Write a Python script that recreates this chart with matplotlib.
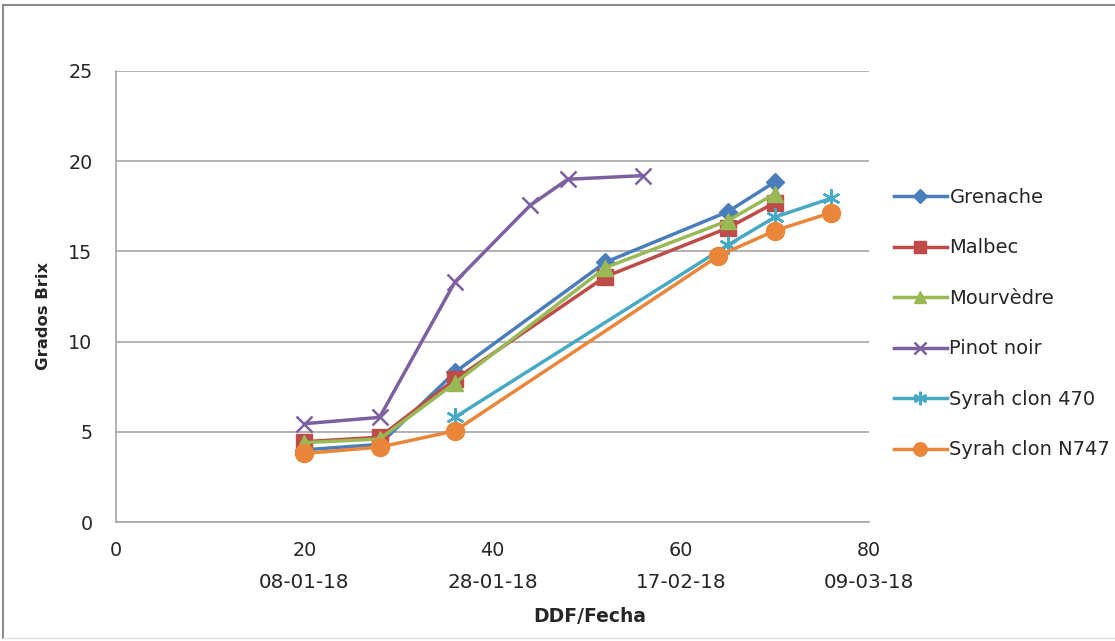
import matplotlib
matplotlib.use("Agg")
import matplotlib.pyplot as plt
from matplotlib.lines import Line2D
from matplotlib.transforms import blended_transform_factory

# ---- data ----
x_grenache = [20, 28, 36, 52, 65, 70]
y_grenache = [4.0, 4.3, 8.3, 14.4, 17.2, 18.85]
x_malbec = [20, 28, 36, 52, 65, 70]
y_malbec = [4.45, 4.7, 7.9, 13.6, 16.3, 17.7]
x_mourvedre = [20, 28, 36, 52, 65, 70]
y_mourvedre = [4.4, 4.6, 7.7, 14.1, 16.7, 18.2]
x_pinot = [20, 28, 36, 44, 48, 56]
y_pinot = [5.45, 5.8, 13.3, 17.55, 19.0, 19.2]
x_syrah470 = [36, 65, 70, 76]
y_syrah470 = [5.8, 15.35, 16.9, 17.95]
x_syrahN747 = [20, 28, 36, 64, 70, 76]
y_syrahN747 = [3.8, 4.15, 5.05, 14.75, 16.15, 17.15]

series_names = ["Grenache", "Malbec", "Mourvèdre", "Pinot noir",
                "Syrah clon 470", "Syrah clon N747"]
x_ticks = [0, 20, 40, 60, 80]
date_ticks = [20, 40, 60, 80]
date_labels = ["08-01-18", "28-01-18", "17-02-18", "09-03-18"]
y_ticks = [0, 5, 10, 15, 20, 25]

colors = ["#4A7EBB", "#BE4B48", "#98B954", "#7D60A0", "#46AAC5", "#E9863A"]
markers = ["D", "s", "^", "x", (6, 2, 0), "o"]
msizes = [9, 11, 12, 12, 13, 13]

W, H = 1115, 641
fig = plt.figure(figsize=(W / 100, H / 100), dpi=100)
ax = fig.add_axes([116 / W, 1 - 522 / H, (869 - 116) / W, (522 - 71) / H])

data = [(x_grenache, y_grenache), (x_malbec, y_malbec), (x_mourvedre, y_mourvedre),
        (x_pinot, y_pinot), (x_syrah470, y_syrah470), (x_syrahN747, y_syrahN747)]

for (xs, ys), name, c, m, ms in zip(data, series_names, colors, markers, msizes):
    mew = 1.8 if m in ("x", (6, 2, 0)) else 1
    ax.plot(xs, ys, color=c, lw=2.5, marker=m, markersize=ms,
            markeredgewidth=mew, markeredgecolor=c, markerfacecolor=c,
            label=name, zorder=3)

ax.set_xlim(0, 80)
ax.set_ylim(0, 25)
ax.set_xticks(x_ticks)
ax.set_yticks(y_ticks)
ax.grid(axis="y", color="#A6A6A6", lw=1.2)
ax.set_axisbelow(True)
for s in ["top", "right"]:
    ax.spines[s].set_visible(False)
for s in ["left", "bottom"]:
    ax.spines[s].set_color("#A6A6A6")
    ax.spines[s].set_linewidth(1.2)
ax.tick_params(length=0)
ax.tick_params(axis="y", pad=17)
ax.tick_params(axis="x", pad=14)
for lab in ax.get_yticklabels() + ax.get_xticklabels():
    lab.set_fontfamily("DejaVu Sans")
    lab.set_fontsize(13.8)
    lab.set_color("#262626")

trans = blended_transform_factory(ax.transData, fig.transFigure)
for xv, dl in zip(date_ticks, date_labels):
    fig.text(xv, 1 - 582 / H, dl, transform=trans, ha="center", va="center",
             fontsize=14.3, family="DejaVu Sans", color="#262626")

fig.text(590 / W, 1 - 617 / H, "DDF/Fecha", ha="center", va="center",
         fontsize=13.5, fontweight="bold", family="DejaVu Sans", color="#262626")
fig.text(43 / W, 1 - 316 / H, "Grados Brix", ha="center", va="center",
         rotation=90, fontsize=11.8, fontweight="bold", family="DejaVu Sans",
         color="#262626")

leg = ax.legend(loc="upper left", bbox_to_anchor=(894 / W, 1 - 188 / H),
                bbox_transform=fig.transFigure, frameon=False,
                prop={"family": "DejaVu Sans", "size": 14},
                handlelength=2.7, handletextpad=0.15, labelspacing=1.62,
                borderaxespad=0, borderpad=0, markerscale=0.75)
for t in leg.get_texts():
    t.set_color("#262626")

# chart-area border
fig.add_artist(Line2D([3 / W, 1], [1 - 5 / H, 1 - 5 / H], color="#8C8C8C", lw=1.5,
                      transform=fig.transFigure))
fig.add_artist(Line2D([3 / W, 3 / W], [1 - 5 / H, 1 - 638 / H], color="#8C8C8C", lw=1.5,
                      transform=fig.transFigure))
fig.add_artist(Line2D([3 / W, 1], [1 - 638 / H, 1 - 638 / H], color="#E0E0E0", lw=1,
                      transform=fig.transFigure))

fig.savefig("out.png", dpi=100)
